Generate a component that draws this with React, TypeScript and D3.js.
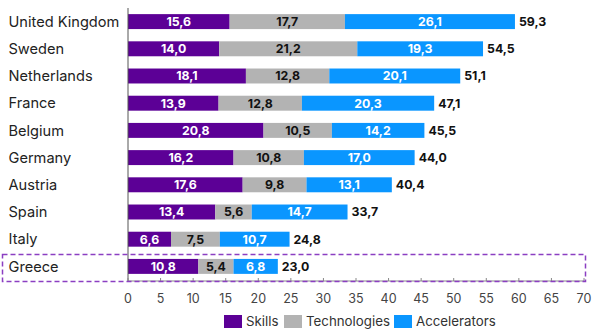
import React from "react";
import * as d3 from "d3";

const countries = ["United Kingdom","Sweden","Netherlands","France","Belgium","Germany","Austria","Spain","Italy","Greece"];
const skills = [15.6,14.0,18.1,13.9,20.8,16.2,17.6,13.4,6.6,10.8];
const technologies = [17.7,21.2,12.8,12.8,10.5,10.8,9.8,5.6,7.5,5.4];
const accelerators = [26.1,19.3,20.1,20.3,14.2,17.0,13.1,14.7,10.7,6.8];
const totals = [59.3,54.5,51.1,47.1,45.5,44.0,40.4,33.7,24.8,23.0];
const seriesNames = ["Skills","Technologies","Accelerators"];
const ticks = [0,5,10,15,20,25,30,35,40,45,50,55,60,65,70];

const colors = ["#5c0096","#b3b3b3","#0a96ff"];
const textColors = ["#ffffff","#111111","#ffffff"];
const fmt = (v: number) => v.toFixed(1).replace(".", ",");
const FONT = "Inter, 'Noto Sans', sans-serif";

export default function App() {
  const W = 598, H = 331;
  const x = d3.scaleLinear().domain([0, 70]).range([128, 584]);
  const y = d3.scaleBand<string>().domain(countries).range([8, 280]).paddingInner(0.45).paddingOuter(0.225);
  const series = [skills, technologies, accelerators];
  const bw = y.bandwidth();
  const legendX = [224, 284, 394];
  return (
    <svg width={W} height={H} style={{ position: "absolute", left: 0, top: 0 }} fontFamily={FONT}>
      <rect width={W} height={H} fill="#fff" />
      {countries.map((c, i) => {
        let acc = 0;
        const yy = y(c)!;
        return (
          <g key={c}>
            <text x={8.5} y={yy + bw / 2} dy="0.36em" fontSize={14.6} fill="#222">{c}</text>
            {series.map((s, k) => {
              const x0 = x(acc), x1 = x(acc + s[i]);
              acc += s[i];
              return (
                <g key={k}>
                  <rect x={x0} y={yy} width={x1 - x0} height={bw} fill={colors[k]} />
                  <text x={(x0 + x1) / 2} y={yy + bw / 2} dy="0.36em" textAnchor="middle" fontSize={12.3} fontWeight={700} fill={textColors[k]}>{fmt(s[i])}</text>
                </g>
              );
            })}
            <text x={x(acc) + 4} y={yy + bw / 2} dy="0.36em" fontSize={12.3} fontWeight={700} fill="#111">{fmt(totals[i])}</text>
          </g>
        );
      })}
      <line x1={128} x2={128} y1={8} y2={281} stroke="#555" strokeWidth={1} />
      <line x1={128} x2={584} y1={281} y2={281} stroke="#888" strokeWidth={1} />
      {ticks.map(t => (
        <g key={t}>
          <line x1={x(t)} x2={x(t)} y1={278} y2={281} stroke="#888" />
          <text x={x(t)} y={298} dy="0.36em" textAnchor="middle" fontSize={12.5} fill="#444">{t}</text>
        </g>
      ))}
      <rect x={2.5} y={254.5} width={583} height={27} fill="none" stroke="#8b3fc2" strokeWidth={1.5} strokeDasharray="5,3" />
      {seriesNames.map((n, k) => (
        <g key={n}>
          <rect x={legendX[k]} y={315} width={18} height={13} fill={colors[k]} />
          <text x={legendX[k] + 22} y={321.5} dy="0.36em" fontSize={13.3} fill="#333">{n}</text>
        </g>
      ))}
    </svg>
  );
}
